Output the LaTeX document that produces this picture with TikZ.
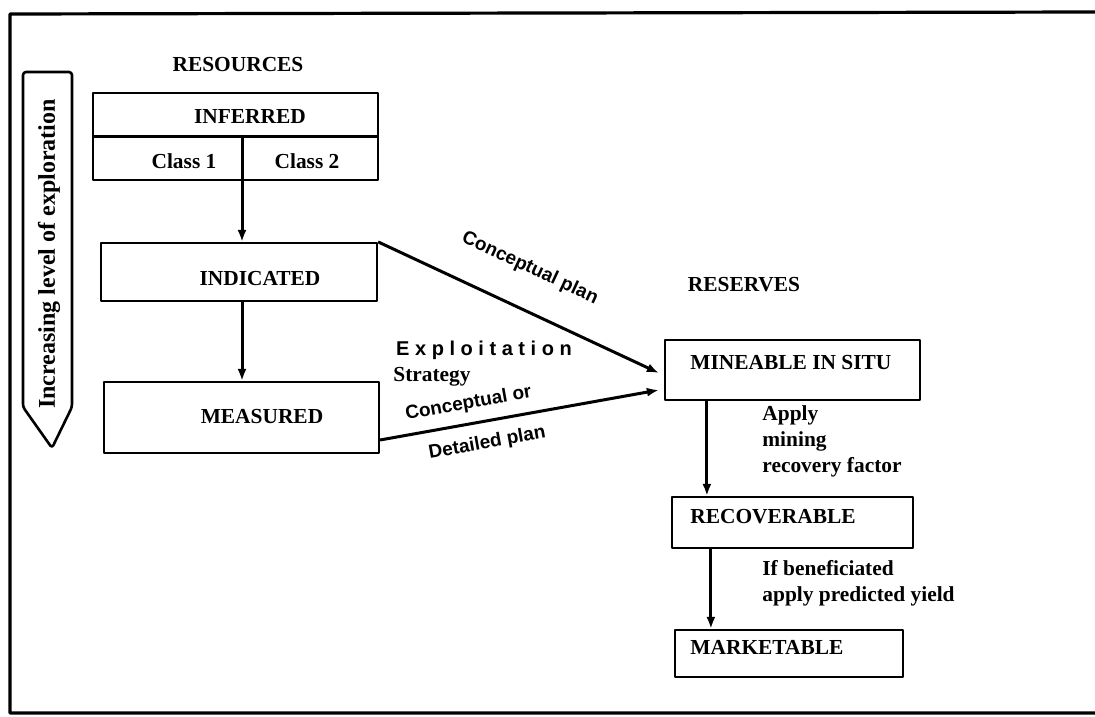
\documentclass[tikz,border=0pt]{standalone}
\usepackage{fontspec}
\setmainfont{Liberation Serif}
\setsansfont{Liberation Sans}
\usetikzlibrary{arrows.meta}

\begin{document}
\begin{tikzpicture}[x=0.5pt, y=-0.5pt, line join=round,
  every node/.style={font=\bfseries\fontsize{10.7pt}{13pt}\selectfont, inner sep=0pt},
  box/.style={draw, line width=1.1pt},
  arr/.style={line width=1.5pt, -{Latex[length=6pt,width=4.5pt]}},
  lbl/.style={font=\sffamily\bfseries\fontsize{9.5pt}{11pt}\selectfont}]

\useasboundingbox (0,0) rectangle (1095,716);

% frame
\draw[line width=1.6pt] (1100,12) -- (10,14) -- (10,713) -- (1100,713);

% exploration arrow
\draw[line width=1.3pt, rounded corners=1.5pt] (23,72) -- (72,72) -- (72,407) -- (52,448) -- (23,407) -- cycle;
\node[rotate=90, font=\bfseries\fontsize{12pt}{14pt}\selectfont] (explore) at (49,254) {Increasing level of exploration};

% resources
\node (resources) at (238,65) {RESOURCES};
\node[box, minimum width=142.5pt, minimum height=43.5pt] (inferred) at (235.5,136.5) {};
\draw[line width=1.1pt] (inferred.west) -- (inferred.east);
\node (inftxt) at (250,117) {INFERRED};
\node (class1) at (184,161) {Class 1};
\node (class2) at (307,161) {Class 2};
\coordinate (split) at ([xshift=3.25pt]inferred.center);

\node[box, minimum width=138pt, minimum height=29pt] (indicated) at (239,272) {};
\node (indtxt) at (260,279) {INDICATED};
\node[box, minimum width=137.5pt, minimum height=35.5pt] (measured) at (241.5,417.5) {};
\node (meastxt) at (262,417) {MEASURED};

\draw[arr] (split) -- (split |- indicated.north);
\draw[arr] (split |- indicated.south) -- (split |- measured.north);

% reserves
\node (reserves) at (744,285) {RESERVES};
\node[box, minimum width=127.5pt, minimum height=30pt] (mine) at (792.5,370) {};
\node[anchor=west] (minetxt) at (690,363) {MINEABLE IN SITU};
\node[box, minimum width=120.5pt, minimum height=25.5pt] (recov) at (792.5,522.5) {};
\node[anchor=west] (recovtxt) at (690,517) {RECOVERABLE};
\node[box, minimum width=114pt, minimum height=23.5pt] (market) at (789,653.5) {};
\node[anchor=west] (markettxt) at (690,647) {MARKETABLE};

% strategy
\node[lbl, font=\sffamily\bfseries\fontsize{10pt}{12pt}\selectfont] (exploit) at (484,350) {E x p l o i t a t i o n};
\node (strategy) at (432,377) {Strategy};

\draw[arr] (indicated.north east) -- node[lbl, sloped, above=15pt, pos=0.48] (concplan) {Conceptual plan} ([yshift=-1.5pt, xshift=-2.5pt]mine.west);
\draw[arr] ([yshift=-11.25pt]measured.east) -- node[lbl, sloped, above=5pt, pos=0.33] (concor) {Conceptual or} node[lbl, sloped, below=6pt, pos=0.37] (detplan) {Detailed plan} ([yshift=-10pt, xshift=-2.5pt]mine.west);

\coordinate (mineout) at ([xshift=21.5pt]mine.south west);
\coordinate (recout) at ([xshift=20pt]recov.south west);
\draw[arr] (mineout) -- (mineout |- recov.north);
\node[anchor=west, align=left] (applytxt) at (762,441) {Apply\\mining\\recovery factor};
\draw[arr] (recout) -- (recout |- market.north);
\node[anchor=west, align=left] (yieldtxt) at (762,583) {If beneficiated\\apply predicted yield};
\end{tikzpicture}
\end{document}
